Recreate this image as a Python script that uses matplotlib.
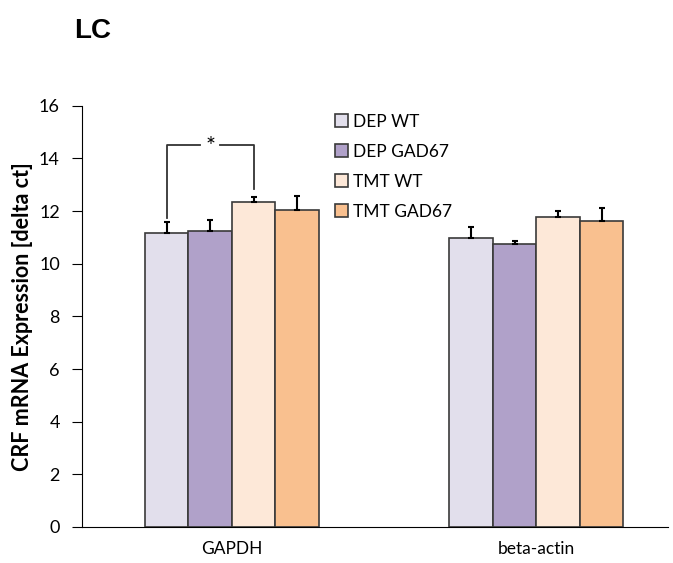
import matplotlib.pyplot as plt
import numpy as np

genes = ["GAPDH", "beta-actin"]
groups = ["DEP WT", "DEP GAD67", "TMT WT", "TMT GAD67"]
means = [
    [11.18, 10.99],
    [11.25, 10.76],
    [12.36, 11.79],
    [12.05, 11.63],
]
errors = [
    [0.42, 0.42],
    [0.42, 0.12],
    [0.19, 0.23],
    [0.53, 0.48],
]
colors = ["#e2dfec", "#b0a1c9", "#fde8d8", "#f9c08f"]

plt.rcParams['font.family'] = ['Lato', 'DejaVu Sans']

fig = plt.figure(figsize=(6.73, 5.63), dpi=100)
ax = fig.add_axes([0.122, 0.064, 0.871, 0.748])

centers = np.array([0.0, 7.0])
width = 1.0
for i, (name, m, e, c) in enumerate(zip(groups, means, errors, colors)):
    x = centers + (i - 1.5) * width
    ax.bar(x, m, width, color=c, edgecolor="#3a3a3a", linewidth=1.2, label=name, zorder=2)
    ax.errorbar(x, m, yerr=[np.zeros(len(e)), e], fmt="none", ecolor="black",
                elinewidth=1.5, capsize=2.5, capthick=1.5, zorder=3)

# significance bracket between DEP WT and TMT WT (GAPDH), star sits in a gap of the line
x1 = centers[0] - 1.5 * width
x3 = centers[0] + 0.5 * width
xm = (x1 + x3) / 2
y_top = 14.5
gap = 0.22
ax.plot([x1, x1, xm - gap], [means[0][0] + errors[0][0] + 0.15, y_top, y_top],
        color="#333333", lw=1.3, clip_on=False)
ax.plot([xm + gap, x3, x3], [y_top, y_top, means[2][0] + errors[2][0] + 0.3],
        color="#333333", lw=1.3, clip_on=False)
ax.text(xm, y_top - 0.05, "*", ha="center", va="center", fontsize=17)

ax.set_xlim(-3.44, 10.03)
ax.set_ylim(0, 16)
ax.set_yticks(np.arange(0, 17, 2))
ax.set_xticks(centers)
ax.set_xticklabels(genes, fontsize=12.5)
ax.tick_params(axis="x", length=0, pad=10)
ax.tick_params(axis="y", labelsize=13, direction="out", length=7, pad=9)
ax.spines["top"].set_visible(False)
ax.spines["right"].set_visible(False)
ax.set_ylabel("CRF mRNA Expression [delta ct]", fontsize=15.5, fontweight="bold")
ax.yaxis.set_label_coords(-0.084, 0.5)

ax.legend(loc="upper left", bbox_to_anchor=(0.405, 1.018), frameon=False, fontsize=12.5,
          handlelength=0.75, handleheight=0.75, handletextpad=0.3, labelspacing=0.8)

fig.text(0.11, 0.945, "LC", fontsize=20, fontweight="bold", ha="left", va="center",
         family="Liberation Sans")

fig.savefig("out.png", dpi=100)
